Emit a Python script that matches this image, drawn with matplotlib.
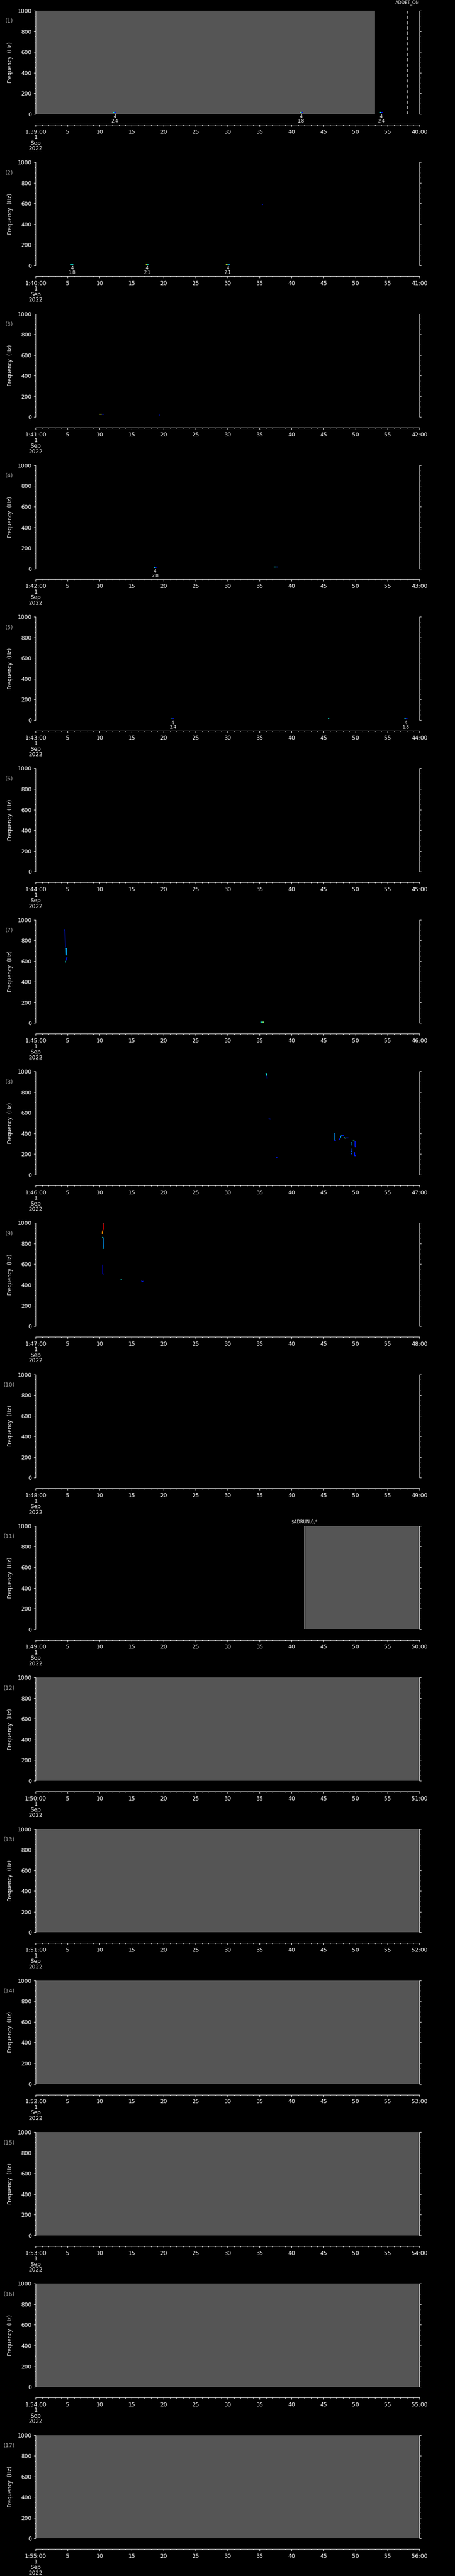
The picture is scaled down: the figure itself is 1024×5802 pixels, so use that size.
import matplotlib
matplotlib.use("Agg")
import matplotlib.pyplot as plt
from matplotlib.ticker import MultipleLocator, FixedLocator

plt.rcParams['font.family'] = ['DejaVu Sans']
plt.rcParams['lines.scale_dashes'] = False

# ---------------- data ----------------
n_panels = 17
panel_start_minute = list(range(39, 56))          # panel k starts at 1:MM:00, 1 Sep 2022
date_lines = ["1", "Sep", "2022"]

# gray (no-data) spans: panel, t0 [s], t1 [s]
gray_panel = [1, 11, 12, 13, 14, 15, 16, 17]
gray_t0 = [0.0, 42.0, 0.0, 0.0, 0.0, 0.0, 0.0, 0.0]
gray_t1 = [53.05, 60.0, 60.0, 60.0, 60.0, 60.0, 60.0, 60.0]

# event markers: panel, time [s], label, line style, label height above top [px]
event_panel = [1, 11]
event_time = [58.07, 42.0]
event_label = ["ADDET_ON", "$ADRUN,0,*"]
event_style = ["dashed", "solid"]
event_label_dy = [18, 9]

# detected contour pieces: panel, colour level (jet), times [s], frequencies [Hz]
track_panel = [
    1, 1, 1, 1, 1, 1,
    2, 2, 2, 2, 2, 2,
    3, 3, 3,
    4, 4, 4, 4,
    5, 5, 5, 5, 5,
    7, 7, 7, 7, 7, 7,
    8, 8, 8, 8, 8, 8, 8, 8, 8, 8, 8, 8, 8, 8, 8, 8, 8, 8, 8, 8,
    9, 9, 9, 9, 9, 9, 9, 9, 9, 9,
]
track_level = [
    0.37, 0.13, 0.45, 0.13, 0.37, 0.13,
    0.37, 0.62, 0.37, 0.62, 0.30, 0.15,
    0.62, 0.15, 0.15,
    0.37, 0.15, 0.37, 0.20,
    0.37, 0.15, 0.37, 0.37, 0.15,
    0.15, 0.30, 0.15, 0.37, 0.37, 0.50,
    0.37, 0.12, 0.15, 0.15, 0.28, 0.15, 0.15, 0.30, 0.15, 0.37, 0.55, 0.15,
    0.40, 0.15, 0.30, 0.20, 0.45, 0.20, 0.15, 0.15,
    0.37, 0.95, 0.85, 0.75, 0.37, 0.28, 0.37, 0.13, 0.37, 0.15,
]
track_t = [
    [12.1, 12.3], [12.3, 12.55], [41.3, 41.55], [41.55, 41.8], [53.8, 54.0], [54.0, 54.2],
    [5.45, 5.9], [17.2, 17.4], [17.4, 17.6], [29.7, 30.0], [30.0, 30.3], [35.35, 35.5],
    [10.0, 10.3], [10.3, 10.7], [19.35, 19.5],
    [18.5, 18.65], [18.65, 18.85], [37.2, 37.5], [37.5, 37.8],
    [21.2, 21.4], [21.4, 21.6], [45.7, 45.9], [57.6, 57.85], [57.85, 58.1],
    [4.40, 4.58, 4.63, 4.66], [4.72, 4.78, 4.81, 4.95], [4.95, 4.82, 4.82], [4.65, 4.65],
    [35.1, 35.4], [35.4, 35.7],
    [35.93, 36.05, 36.1], [36.15, 36.18], [36.4, 36.7], [37.6, 37.8],
    [46.62, 46.62], [46.65, 46.9],
    [47.37, 47.53, 47.62], [47.62, 47.70, 47.84], [47.84, 47.98, 48.16], [48.16, 48.30],
    [48.30, 48.44], [48.44, 48.85],
    [49.53, 49.81], [49.88, 49.88, 50.05], [49.40, 49.25, 49.25], [49.25, 49.25, 49.40],
    [49.20, 49.35], [49.32, 49.32, 49.45], [49.76, 49.85, 49.85, 50.05], [49.85, 49.85],
    [10.58, 10.72], [10.6, 10.6, 10.52], [10.52, 10.48, 10.46], [10.42, 10.40],
    [10.40, 10.55], [10.55, 10.57], [10.57, 10.75], [10.50, 10.48, 10.48, 10.75],
    [13.3, 13.45], [16.5, 16.7, 16.9],
]
track_f = [
    [14, 14], [14, 14], [14, 14], [14, 14], [14, 14], [14, 14],
    [14, 14], [14, 14], [14, 14], [14, 14], [14, 14], [592, 588],
    [28, 28], [28, 28], [17, 17],
    [13, 13], [13, 13], [16, 16], [14, 14],
    [14, 14], [14, 14], [14, 14], [14, 14], [14, 14],
    [910, 898, 741, 734], [726, 724, 659, 659], [636, 633, 606], [605, 588],
    [11, 11], [11, 11],
    [982, 980, 958], [958, 933], [540, 537], [167, 160],
    [403, 333], [333, 330],
    [337, 347, 354], [354, 374, 377], [377, 381, 381], [361, 354],
    [350, 350], [355, 355],
    [324, 324], [324, 271, 271], [308, 308, 283], [251, 228, 228],
    [210, 210], [208, 200, 200], [214, 214, 183, 183], [183, 183],
    [997, 997], [995, 943, 937], [937, 920, 915], [916, 894],
    [861, 861], [860, 753], [751, 751], [594, 592, 506, 506],
    [447, 458], [438, 432, 436],
]

# detection annotations: panel, time [s], upper text, lower text
note_panel = [1, 1, 1, 2, 2, 2, 4, 5, 5]
note_time = [12.35, 41.5, 54.0, 5.7, 17.4, 30.0, 18.65, 21.4, 57.85]
note_top = ["4", "4", "4", "4", "4", "4", "4", "4", "4"]
note_bottom = ["2.4", "1.8", "2.4", "1.8", "2.1", "2.1", "2.8", "2.4", "1.8"]

# axis definitions
freq_major = list(range(0, 1001, 200))
time_major = list(range(0, 61, 5))

# ---------------- drawing ----------------
W, H = 1024, 5802
PH = H / n_panels
LEFT, RIGHT = 80.3, 944.3
TOP, BOT = 24.0, 256.7
PX = 72.0 / 100.0   # points per pixel
cmap = plt.get_cmap("jet")
gray = "#555555"

fig = plt.figure(figsize=(W / 100, H / 100), dpi=100, facecolor="black")

for k in range(n_panels):
    p = k + 1
    off = k * PH
    ax = fig.add_axes([LEFT / W, 1 - (off + BOT) / H, (RIGHT - LEFT) / W, (BOT - TOP) / H])
    ax.set_facecolor("black")
    ax.set_xlim(0, 60)
    ax.set_ylim(0, 1000)

    for s in ["left", "right", "bottom"]:
        ax.spines[s].set_color("white")
        ax.spines[s].set_linewidth(1.0 * PX)
    ax.spines["top"].set_visible(False)
    ax.spines["bottom"].set_position(("outward", 24 * PX))

    ax.yaxis.set_major_locator(FixedLocator(freq_major))
    ax.yaxis.set_minor_locator(MultipleLocator(50))
    ax.set_yticklabels([str(v) for v in freq_major])
    ax.xaxis.set_major_locator(FixedLocator(time_major))
    ax.xaxis.set_minor_locator(MultipleLocator(1))
    m = panel_start_minute[k]
    xlabels = []
    for v in time_major:
        if v == 0:
            xlabels.append("1:%02d:00\n" % m + "\n".join(date_lines))
        elif v == 60:
            xlabels.append("%02d:00" % ((m + 1) % 60))
        else:
            xlabels.append(str(v))
    ax.set_xticklabels(xlabels)

    ax.tick_params(axis="both", which="both", direction="out", colors="white",
                   width=1.0 * PX, labelsize=9)
    ax.tick_params(axis="y", which="both", left=True, right=True, labelright=False)
    ax.tick_params(axis="y", which="major", length=4 * PX, pad=3.5)
    ax.tick_params(axis="y", which="minor", length=2 * PX)
    ax.tick_params(axis="x", which="major", length=4.3 * PX, pad=4.0)
    ax.tick_params(axis="x", which="minor", length=2 * PX)
    for lab in ax.get_xticklabels():
        lab.set_linespacing(0.95)

    # gray spans
    for gp, g0, g1 in zip(gray_panel, gray_t0, gray_t1):
        if gp == p:
            ax.axvspan(g0, g1, color=gray, lw=0, zorder=0.5)

    # tracks
    for tp, lv, tt, ff in zip(track_panel, track_level, track_t, track_f):
        if tp == p:
            ax.plot(tt, ff, color=cmap(lv), lw=1.3, solid_capstyle="butt", zorder=3)

    # notes
    for npn, nt, a, b in zip(note_panel, note_time, note_top, note_bottom):
        if npn == p:
            ax.annotate(a + "\n" + b, xy=(nt, 0), xycoords="data", xytext=(0, -1.0),
                        textcoords="offset points", ha="center", va="top",
                        fontsize=7, color="white", linespacing=1.0, annotation_clip=False)

    # events
    for ep, et, el, es, edy in zip(event_panel, event_time, event_label, event_style, event_label_dy):
        if ep == p:
            ls = (0, (5.0, 3.6)) if es == "dashed" else "-"
            ax.axvline(et, color="white", lw=1.0 * PX, ls=ls, zorder=4)
            ax.annotate(el, xy=(et, 1000), xycoords="data", xytext=(0, edy * PX),
                        textcoords="offset points", ha="center", va="center",
                        fontsize=7, color="white", annotation_clip=False)

    # labels
    ax.text((23 - LEFT) / (RIGHT - LEFT), 0.5, "Frequency  (Hz)", transform=ax.transAxes,
            rotation=90, ha="center", va="center", fontsize=8.5, color="white")
    ax.text((21 - LEFT) / (RIGHT - LEFT), (BOT - 48) / (BOT - TOP), "(%d)" % p,
            transform=ax.transAxes, ha="center", va="center", fontsize=9, color="#a8a8a8")

fig.savefig("out.png", dpi=100, facecolor="black")
